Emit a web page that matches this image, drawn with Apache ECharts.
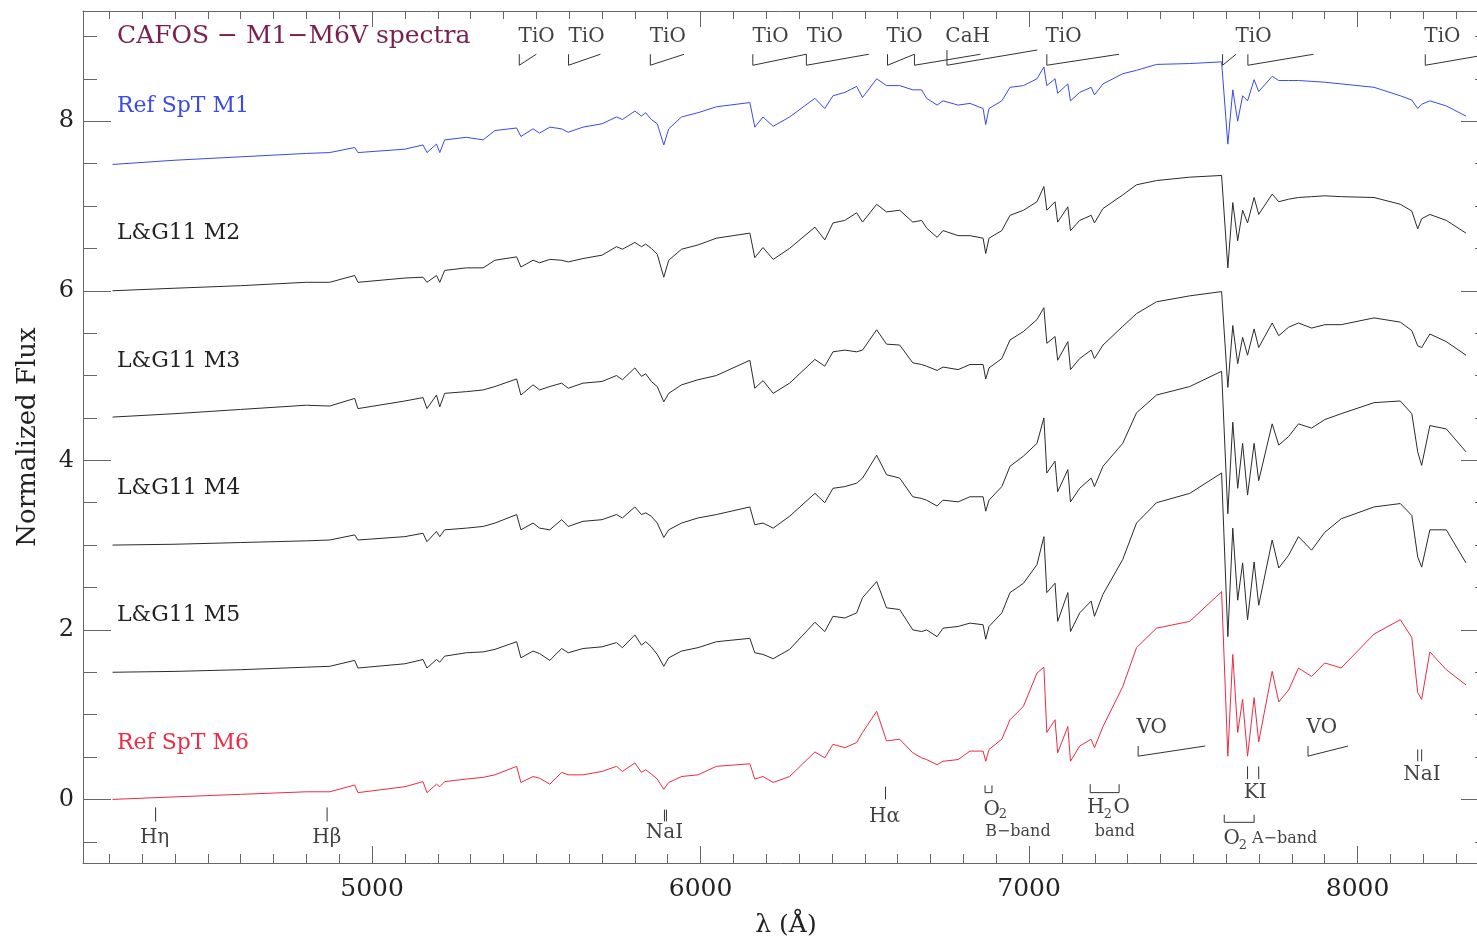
<!DOCTYPE html>
<html>
<head>
<meta charset="utf-8">
<title>CAFOS M1-M6V spectra</title>
<script src="https://cdn.jsdelivr.net/npm/echarts@6/dist/echarts.min.js"></script>
<style>
html, body { margin: 0; padding: 0; background: #fff; }
#main { width: 1477px; height: 939px; overflow: hidden; }
</style>
</head>
<body>
<div id="main"></div>
<script>
// wavelength grid (Angstrom), shared by all spectra
var wavelength = [4210, 4400, 4600, 4800, 4871, 4947, 4957, 5100, 5155, 5167,
  5196, 5206, 5221, 5287, 5338, 5374, 5440, 5453, 5490, 5510,
  5541, 5577, 5597, 5642, 5700, 5744, 5762, 5800, 5820, 5833,
  5850, 5868, 5888, 5903, 5942, 5992, 6048, 6150, 6165, 6190,
  6221, 6271, 6348, 6378, 6403, 6439, 6475, 6493, 6536, 6566,
  6606, 6646, 6673, 6688, 6720, 6738, 6784, 6820, 6860, 6868,
  6878, 6917, 6942, 6983, 7024, 7045, 7054, 7079, 7087, 7118,
  7126, 7154, 7189, 7199, 7225, 7285, 7327, 7388, 7489, 7586,
  7605, 7620, 7635, 7650, 7665, 7685, 7699, 7740, 7760, 7790,
  7820, 7860, 7900, 7950, 8050, 8130, 8165, 8183, 8195, 8220,
  8270, 8330];

// normalized flux (with offsets)
var fluxM1 = [7.49, 7.54, 7.58, 7.62, 7.63, 7.69, 7.63, 7.67, 7.72, 7.63,
  7.73, 7.63, 7.78, 7.81, 7.78, 7.89, 7.92, 7.82, 7.91, 7.86,
  7.93, 7.91, 7.87, 7.93, 7.97, 8.05, 8.02, 8.12, 8.06, 8.10,
  8.02, 7.97, 7.72, 7.91, 8.05, 8.10, 8.17, 8.22, 7.93, 8.05,
  7.94, 8.05, 8.27, 8.15, 8.30, 8.34, 8.41, 8.28, 8.50, 8.42,
  8.42, 8.37, 8.37, 8.27, 8.19, 8.24, 8.19, 8.21, 8.15, 7.96,
  8.15, 8.24, 8.40, 8.42, 8.50, 8.64, 8.42, 8.50, 8.33, 8.44,
  8.24, 8.34, 8.40, 8.31, 8.44, 8.56, 8.60, 8.67, 8.68, 8.70,
  7.73, 8.37, 8.00, 8.30, 8.24, 8.49, 8.35, 8.53, 8.48, 8.48,
  8.48, 8.47, 8.46, 8.44, 8.40, 8.30, 8.25, 8.15, 8.20, 8.24,
  8.18, 8.06];
var fluxM2 = [6.00, 6.03, 6.06, 6.10, 6.10, 6.18, 6.10, 6.15, 6.16, 6.10,
  6.18, 6.10, 6.24, 6.27, 6.27, 6.36, 6.40, 6.28, 6.36, 6.33,
  6.37, 6.36, 6.34, 6.38, 6.42, 6.52, 6.49, 6.57, 6.52, 6.55,
  6.50, 6.43, 6.16, 6.36, 6.49, 6.54, 6.62, 6.68, 6.39, 6.51,
  6.37, 6.50, 6.75, 6.60, 6.80, 6.83, 6.92, 6.81, 7.02, 6.93,
  6.95, 6.81, 6.83, 6.74, 6.63, 6.71, 6.65, 6.65, 6.62, 6.44,
  6.62, 6.71, 6.89, 6.95, 7.05, 7.23, 6.95, 7.05, 6.81, 6.99,
  6.71, 6.83, 6.89, 6.80, 6.97, 7.13, 7.25, 7.30, 7.34, 7.36,
  6.27, 7.04, 6.59, 6.95, 6.80, 7.10, 6.90, 7.14, 7.05, 7.08,
  7.10, 7.11, 7.12, 7.11, 7.10, 7.02, 6.94, 6.73, 6.85, 6.90,
  6.83, 6.68];
var fluxM3 = [4.51, 4.55, 4.60, 4.65, 4.64, 4.73, 4.61, 4.70, 4.74, 4.61,
  4.77, 4.63, 4.79, 4.81, 4.83, 4.87, 4.96, 4.77, 4.89, 4.83,
  4.87, 4.91, 4.85, 4.91, 4.93, 5.00, 4.95, 5.09, 4.99, 5.02,
  4.93, 4.87, 4.69, 4.79, 4.89, 4.95, 5.00, 5.18, 4.85, 4.94,
  4.79, 4.91, 5.19, 5.11, 5.28, 5.30, 5.28, 5.30, 5.54, 5.37,
  5.36, 5.15, 5.13, 5.11, 5.06, 5.10, 5.07, 5.13, 5.13, 4.96,
  5.09, 5.20, 5.42, 5.52, 5.66, 5.80, 5.38, 5.46, 5.18, 5.40,
  5.07, 5.20, 5.30, 5.20, 5.36, 5.58, 5.73, 5.87, 5.94, 5.99,
  4.86, 5.59, 5.14, 5.45, 5.24, 5.55, 5.33, 5.62, 5.47, 5.57,
  5.62, 5.56, 5.60, 5.60, 5.68, 5.63, 5.53, 5.35, 5.33, 5.49,
  5.40, 5.24];
var fluxM4 = [3.00, 3.01, 3.03, 3.05, 3.06, 3.12, 3.06, 3.10, 3.14, 3.04,
  3.16, 3.10, 3.18, 3.20, 3.22, 3.26, 3.36, 3.18, 3.26, 3.20,
  3.18, 3.30, 3.22, 3.28, 3.30, 3.36, 3.32, 3.45, 3.36, 3.38,
  3.34, 3.26, 3.09, 3.18, 3.26, 3.32, 3.36, 3.45, 3.24, 3.26,
  3.20, 3.34, 3.61, 3.50, 3.67, 3.69, 3.73, 3.79, 4.06, 3.83,
  3.79, 3.57, 3.55, 3.53, 3.46, 3.53, 3.51, 3.57, 3.57, 3.40,
  3.53, 3.69, 3.93, 4.05, 4.20, 4.50, 3.85, 3.99, 3.63, 3.89,
  3.51, 3.67, 3.79, 3.69, 3.93, 4.20, 4.56, 4.77, 4.87, 5.05,
  3.37, 4.45, 3.67, 4.20, 3.59, 4.20, 3.76, 4.43, 4.18, 4.28,
  4.43, 4.38, 4.48, 4.55, 4.68, 4.70, 4.55, 4.10, 3.94, 4.41,
  4.37, 4.10];
var fluxM5 = [1.50, 1.51, 1.53, 1.56, 1.57, 1.64, 1.55, 1.60, 1.65, 1.55,
  1.65, 1.62, 1.69, 1.73, 1.74, 1.77, 1.86, 1.67, 1.75, 1.72,
  1.64, 1.78, 1.73, 1.78, 1.80, 1.85, 1.79, 1.94, 1.82, 1.86,
  1.80, 1.71, 1.57, 1.67, 1.75, 1.79, 1.86, 1.90, 1.73, 1.71,
  1.66, 1.77, 2.09, 1.98, 2.16, 2.14, 2.20, 2.38, 2.57, 2.26,
  2.24, 2.00, 1.98, 2.00, 1.92, 2.02, 2.04, 2.08, 2.06, 1.89,
  2.04, 2.20, 2.44, 2.55, 2.77, 3.10, 2.44, 2.55, 2.10, 2.44,
  1.98, 2.20, 2.34, 2.16, 2.42, 2.83, 3.26, 3.50, 3.61, 3.85,
  1.92, 3.20, 2.35, 2.79, 2.12, 2.80, 2.29, 3.06, 2.73, 2.88,
  3.10, 2.94, 3.15, 3.31, 3.45, 3.49, 3.35, 2.86, 2.74, 3.18,
  3.18, 2.79];
var fluxM6 = [0.00, 0.03, 0.06, 0.09, 0.09, 0.17, 0.08, 0.15, 0.21, 0.08,
  0.18, 0.15, 0.21, 0.24, 0.26, 0.29, 0.39, 0.20, 0.27, 0.25,
  0.18, 0.32, 0.29, 0.29, 0.33, 0.39, 0.33, 0.43, 0.32, 0.35,
  0.30, 0.24, 0.12, 0.20, 0.27, 0.29, 0.39, 0.42, 0.24, 0.27,
  0.20, 0.27, 0.56, 0.49, 0.65, 0.61, 0.67, 0.79, 1.04, 0.69,
  0.71, 0.55, 0.49, 0.47, 0.41, 0.45, 0.47, 0.57, 0.57, 0.45,
  0.59, 0.71, 0.94, 1.10, 1.49, 1.56, 0.79, 0.94, 0.55, 0.86,
  0.45, 0.63, 0.71, 0.61, 0.86, 1.33, 1.79, 2.02, 2.10, 2.45,
  0.51, 1.71, 0.79, 1.18, 0.51, 1.20, 0.68, 1.51, 1.15, 1.29,
  1.55, 1.45, 1.61, 1.55, 1.95, 2.12, 1.91, 1.26, 1.18, 1.74,
  1.53, 1.35];

var spectra = [
  { name: 'Ref SpT M1', flux: fluxM1, color: '#3a4be6' },
  { name: 'L&G11 M2', flux: fluxM2, color: '#2b2b2b' },
  { name: 'L&G11 M3', flux: fluxM3, color: '#2b2b2b' },
  { name: 'L&G11 M4', flux: fluxM4, color: '#2b2b2b' },
  { name: 'L&G11 M5', flux: fluxM5, color: '#2b2b2b' },
  { name: 'Ref SpT M6', flux: fluxM6, color: '#ee2a44' }
];

// molecular band markers: [start, end, top of diagonal]
var bandTop = [[5448, 5500, 8.79], [5598, 5695, 8.79], [5847, 5950, 8.79],
  [6159, 6322, 8.79], [6322, 6512, 8.79], [6569, 6651, 8.79],
  [6651, 6852, 8.79], [6750, 7025, 8.84], [7054, 7274, 8.79],
  [7589, 7630, 8.79], [7666, 7866, 8.79], [8206, 8400, 8.79]];
var bandTopLow = 8.66;
var voBands = [[7332, 7536, 0.63], [7849, 7971, 0.63]];
var voLow = 0.51;
// single lines: [wavelength, low, high]
var lineMarks = [[4341, -0.26, -0.094], [4863, -0.26, -0.094],
  [5890, -0.26, -0.12], [5896, -0.26, -0.12], [6563, 0.0, 0.15],
  [7665, 0.24, 0.39], [7699, 0.24, 0.39], [8183, 0.45, 0.59], [8195, 0.45, 0.59]];
// telluric brackets: [start, end, low, high]
var brackets = [[6866, 6887, 0.08, 0.165], [7186, 7274, 0.08, 0.18], [7594, 7685, -0.27, -0.18]];

// labels: [text, wavelength, flux, size]
var bandLabels = [['TiO', 5501, 9.0, 20], ['TiO', 5653, 9.0, 20], ['TiO', 5900, 9.0, 20],
  ['TiO', 6213, 9.0, 20], ['TiO', 6378, 9.0, 20], ['TiO', 6621, 9.0, 20],
  ['CaH', 6813, 9.0, 20], ['TiO', 7105, 9.0, 20], ['TiO', 7683, 9.0, 20],
  ['TiO', 8258, 9.0, 20],
  ['Hη', 4338, -0.45, 20], ['Hβ', 4862, -0.45, 20], ['NaI', 5890, -0.39, 20],
  ['Hα', 6560, -0.21, 20], ['O', 6886, -0.12, 20], ['2', 6920, -0.18, 13],
  ['B−band', 6966, -0.38, 16], ['H', 7203, -0.094, 20], ['2', 7240, -0.18, 13],
  ['O', 7282, -0.094, 20], ['band', 7261, -0.38, 16],
  ['VO', 7373, 0.84, 20], ['VO', 7891, 0.84, 20], ['KI', 7688, 0.08, 20],
  ['O', 7617, -0.47, 20], ['2', 7651, -0.54, 13], ['A−band', 7778, -0.47, 16],
  ['NaI', 8196, 0.29, 20]];

var yMajor = [0, 2, 4, 6, 8];
var yMinor = [-0.5, 0.5, 1, 1.5, 2.5, 3, 3.5, 4.5, 5, 5.5, 6.5, 7, 7.5, 8.5, 9];
var xMajor = [5000, 6000, 7000, 8000];
var xMinor = [];
for (var w = 4200; w <= 8400; w += 100) { xMinor.push(w); }

var FONT = 'DejaVu Serif';
var AX = '#666';
var INK = '#333';

function plain(v) { return String(v); }

function xAx(pos, ticks, len, withLine, withLabel) {
  return {
    type: 'value', min: 4120, max: 8400, position: pos,
    axisLine: { show: withLine, onZero: false, lineStyle: { color: AX, width: 1 } },
    axisTick: { show: true, inside: true, length: len, customValues: ticks, lineStyle: { color: AX } },
    axisLabel: withLabel ? { show: true, customValues: ticks, formatter: plain, fontFamily: FONT, fontSize: 25, color: '#222', margin: 14 } : { show: false },
    splitLine: { show: false },
    name: withLabel ? 'λ (Å)' : '',
    nameLocation: 'middle', nameGap: 50,
    nameTextStyle: { fontFamily: FONT, fontSize: 25, color: '#222' }
  };
}
function yAx(pos, ticks, len, withLine, withLabel) {
  return {
    type: 'value', min: -0.75, max: 9.3, position: pos,
    axisLine: { show: withLine, onZero: false, lineStyle: { color: AX, width: 1 } },
    axisTick: { show: true, inside: true, length: len, customValues: ticks, lineStyle: { color: AX } },
    axisLabel: withLabel ? { show: true, customValues: ticks, formatter: plain, fontFamily: FONT, fontSize: 24, color: '#222', margin: 9 } : { show: false },
    splitLine: { show: false },
    name: withLabel ? 'Normalized Flux' : '',
    nameLocation: 'middle', nameGap: 42, nameRotate: 90,
    nameTextStyle: { fontFamily: FONT, fontSize: 26, color: '#222' }
  };
}

function shapeSeries(points) {
  return {
    type: 'line', data: points, showSymbol: false, silent: true,
    lineStyle: { color: INK, width: 1 }, animation: false, z: 3
  };
}

var series = [];
spectra.forEach(function (s) {
  series.push({
    name: s.name, type: 'line', showSymbol: false, animation: false,
    data: wavelength.map(function (w, i) { return [w, s.flux[i]]; }),
    lineStyle: { color: s.color, width: 1 }
  });
});
bandTop.forEach(function (b) {
  series.push(shapeSeries([[b[0], b[2]], [b[0], bandTopLow], [b[1], b[2]]]));
});
voBands.forEach(function (b) {
  series.push(shapeSeries([[b[0], b[2]], [b[0], voLow], [b[1], b[2]]]));
});
lineMarks.forEach(function (m) {
  series.push(shapeSeries([[m[0], m[1]], [m[0], m[2]]]));
});
brackets.forEach(function (b) {
  series.push(shapeSeries([[b[0], b[3]], [b[0], b[2]], [b[1], b[2]], [b[1], b[3]]]));
});
series.push({
  type: 'scatter', symbolSize: 0, silent: true, animation: false, z: 4,
  data: bandLabels.map(function (l) {
    return {
      value: [l[1], l[2]],
      label: { show: true, position: 'inside', formatter: l[0], fontFamily: FONT, fontSize: l[3], color: '#111' }
    };
  })
});

var names = [
  ['CAFOS − M1−M6V spectra', 36, '#7a1f4f', 25],
  ['Ref SpT M1', 106, '#3a4be6', 22],
  ['L&G11 M2', 233, '#222', 22],
  ['L&G11 M3', 361, '#222', 22],
  ['L&G11 M4', 488, '#222', 22],
  ['L&G11 M5', 615, '#222', 22],
  ['Ref SpT M6', 743, '#ee2a44', 22]
];

var myChart = echarts.init(document.getElementById('main'));
var option = {
  backgroundColor: '#fff',
  animation: false,
  grid: { left: 83, top: 11, width: 1406, height: 852, containLabel: false, outerBoundsMode: 'none' },
  xAxis: [
    xAx('bottom', xMajor, 17, true, true),
    xAx('bottom', xMinor, 9, false, false),
    xAx('top', xMajor, 16, true, false),
    xAx('top', xMinor, 8, false, false)
  ],
  yAxis: [
    yAx('left', yMajor, 28, true, true),
    yAx('left', yMinor, 14, false, false),
    yAx('right', yMajor, 28, true, false),
    yAx('right', yMinor, 14, false, false)
  ],
  graphic: names.map(function (n) {
    return {
      type: 'text', x: 117, y: n[1], z: 10,
      style: { text: n[0], fontFamily: FONT, fontSize: n[3], fill: n[2], verticalAlign: 'middle', align: 'left' }
    };
  }),
  series: series
};
myChart.setOption(option);
</script>
</body>
</html>
